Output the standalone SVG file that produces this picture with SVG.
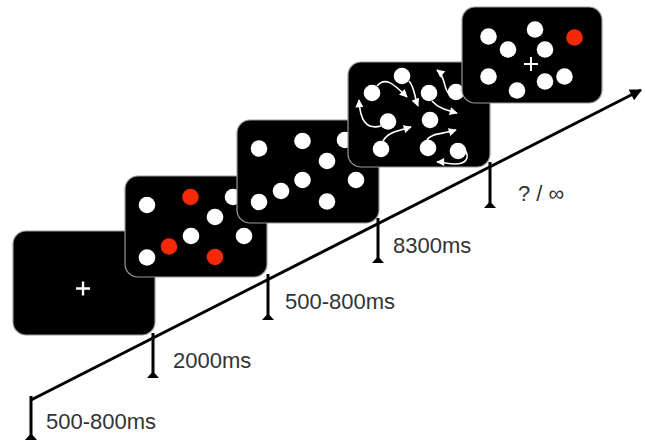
<svg xmlns="http://www.w3.org/2000/svg" width="645" height="443" viewBox="0 0 645 443">
<defs>
<style>
.panel{fill:#000;stroke:#9a9a9a;stroke-width:1.2}
.w{fill:#fff}
.r{fill:#f5290a}
.cross{stroke:#fff;stroke-width:2.4;fill:none}
.mv{fill:none;stroke:#fff;stroke-width:1.6;marker-end:url(#wh)}
.axis{stroke:#000;stroke-width:3;fill:none}
.tick{stroke:#000;stroke-width:3}
.lbl{font-family:"Liberation Sans",Arial,sans-serif;font-size:22px;fill:#333}
</style>
<marker id="wh" viewBox="0 0 10 10" refX="9" refY="5" markerWidth="5.5" markerHeight="5" orient="auto" markerUnits="strokeWidth">
<path d="M0,0 L10,5 L0,10 z" fill="#fff"/>
</marker>
<marker id="ah" viewBox="0 0 10 10" refX="9" refY="5" markerWidth="5" markerHeight="4" orient="auto" markerUnits="strokeWidth">
<path d="M0,0 L10,5 L0,10 z" fill="#000"/>
</marker>
<path id="foot" d="M-6,0 L6,0 L1.5,-5 L-1.5,-5 z" fill="#000"/>
</defs>
<rect width="645" height="443" fill="#fff"/>

<g id="panel1">
<rect class="panel" x="13" y="231" width="142" height="104" rx="13"/>
<path class="cross" d="M76,288.5 H90 M83,281.5 V295.5"/>
</g>

<g id="panel2">
<rect class="panel" x="125" y="176" width="142" height="101" rx="13"/>
<circle class="w" cx="147" cy="205" r="8.3"/>
<circle class="r" cx="190.5" cy="197" r="8.3"/>
<circle class="w" cx="233" cy="197" r="8.3"/>
<circle class="w" cx="215" cy="217" r="8.3"/>
<circle class="w" cx="191" cy="236" r="8.3"/>
<circle class="w" cx="244" cy="236" r="8.3"/>
<circle class="r" cx="169" cy="246.5" r="8.3"/>
<circle class="w" cx="147" cy="257.5" r="8.3"/>
<circle class="r" cx="215" cy="257" r="8.3"/>
</g>

<g id="panel3">
<rect class="panel" x="237" y="120" width="142" height="103" rx="13"/>
<circle class="w" cx="259" cy="148.5" r="8.3"/>
<circle class="w" cx="302.5" cy="141" r="8.3"/>
<circle class="w" cx="345" cy="140" r="8.3"/>
<circle class="w" cx="327" cy="161" r="8.3"/>
<circle class="w" cx="302.5" cy="180" r="8.3"/>
<circle class="w" cx="356" cy="180" r="8.3"/>
<circle class="w" cx="281" cy="191" r="8.3"/>
<circle class="w" cx="259" cy="202" r="8.3"/>
<circle class="w" cx="327" cy="201.5" r="8.3"/>
</g>

<g id="panel4">
<rect class="panel" x="348" y="62" width="142" height="105" rx="13"/>
<circle class="w" cx="372" cy="93" r="8.3"/>
<circle class="w" cx="402" cy="76" r="8.3"/>
<circle class="w" cx="429" cy="93" r="8.3"/>
<circle class="w" cx="456" cy="92" r="8.3"/>
<circle class="w" cx="388" cy="121.5" r="8.3"/>
<circle class="w" cx="430" cy="120" r="8.3"/>
<circle class="w" cx="381" cy="149" r="8.3"/>
<circle class="w" cx="428" cy="148" r="8.3"/>
<circle class="w" cx="458" cy="151" r="8.3"/>
<path class="mv" d="M377,86 C385,76 394,84 407,97"/>
<path class="mv" d="M409,81 C415,88 414,96 418,106"/>
<path class="mv" d="M381,126 C366,130 360,120 359,100"/>
<path class="mv" d="M383,141 C388,132 398,131 411,127"/>
<path class="mv" d="M449,94 C443,88 446,77 437,70"/>
<path class="mv" d="M432,101 C438,108 446,110 457,113"/>
<path class="mv" d="M427,140 C431,133 443,134 456,130"/>
<path class="mv" d="M465,150 C470,158 466,164 455,164 C448,164 443,162 437,162"/>
</g>

<g id="panel5">
<rect class="panel" x="462" y="7" width="140" height="96" rx="13"/>
<circle class="w" cx="488.5" cy="36.5" r="8.3"/>
<circle class="w" cx="535" cy="29.5" r="8.3"/>
<circle class="r" cx="574.5" cy="37.5" r="8.3"/>
<circle class="w" cx="508" cy="49.5" r="8.3"/>
<circle class="w" cx="545" cy="49.5" r="8.3"/>
<circle class="w" cx="488.5" cy="76.5" r="8.3"/>
<circle class="w" cx="564.5" cy="76.5" r="8.3"/>
<circle class="w" cx="545" cy="81.5" r="8.3"/>
<circle class="w" cx="517" cy="90.5" r="8.3"/>
<path class="cross" d="M524,64 H538 M531,57 V71" style="stroke-width:2"/>
</g>

<g id="connectors">
<path class="axis" d="M31,400 L641,90" marker-end="url(#ah)"/>
<line class="tick" x1="31" y1="396" x2="31" y2="438"/>
<use href="#foot" x="31" y="440"/>
<line class="tick" x1="153" y1="333" x2="153" y2="376"/>
<use href="#foot" x="153" y="378"/>
<line class="tick" x1="268" y1="274" x2="268" y2="318"/>
<use href="#foot" x="268" y="320"/>
<line class="tick" x1="378" y1="218" x2="378" y2="261"/>
<use href="#foot" x="378" y="263"/>
<line class="tick" x1="490" y1="162" x2="490" y2="206"/>
<use href="#foot" x="490" y="208"/>
</g>

<g id="labels">
<text class="lbl" x="46" y="429">500-800ms</text>
<text class="lbl" x="173" y="368">2000ms</text>
<text class="lbl" x="285" y="309">500-800ms</text>
<text class="lbl" x="393" y="253">8300ms</text>
<text class="lbl" x="518" y="201">? / ∞</text>
</g>
</svg>
